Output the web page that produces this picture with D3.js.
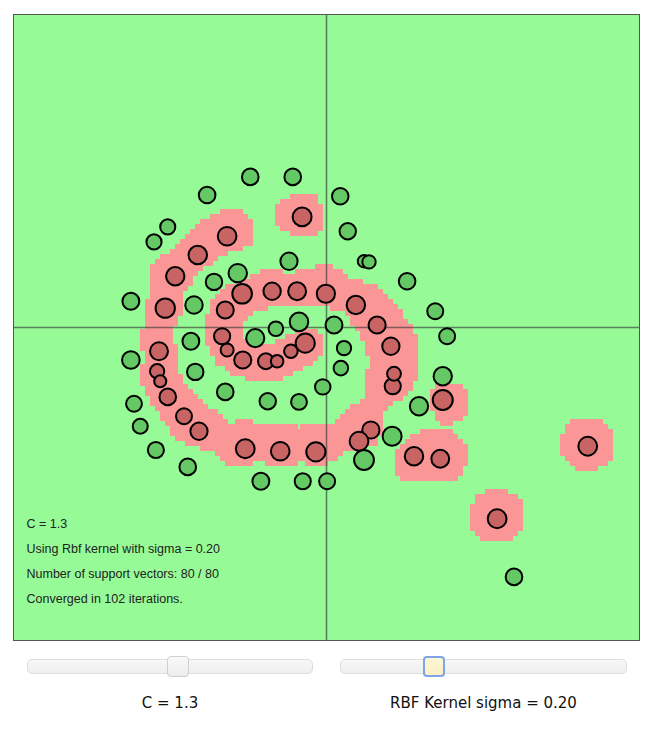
<!DOCTYPE html>
<html>
<head>
<meta charset="utf-8">
<script src="https://cdn.jsdelivr.net/npm/d3@7"></script>
<style>
  body { margin: 0; background: #fff; }
  #wrap { position: relative; width: 645px; height: 731px; font-family: "DejaVu Sans", Verdana, sans-serif; }
  #plot { position: absolute; left: 13px; top: 14px; }
  .track { position: absolute; top: 659px; height: 15px; box-sizing: border-box;
    border: 1px solid #dedede; border-radius: 5px; background: linear-gradient(#f7f7f7, #efefef); }
  .handle { position: absolute; top: 656px; width: 22px; height: 21px; box-sizing: border-box;
    border: 1px solid #cfcfcf; border-radius: 4px; background: linear-gradient(#f9f9f9, #ececec); }
  .handle.focus { border: 2px solid #7ea6e6; background: linear-gradient(#fdf7d8, #fbefc4); }
  .lbl { position: absolute; top: 694px; font-size: 15px; text-align: center; color: #111; }
</style>
</head>
<body>
<div id="wrap"></div>
<script>
// training points in data units (canvas center is 0,0; y grows downward)
const greenX = [-1.22, -0.54, -1.91, 0.22, -2.54, -2.76, 0.34, -0.60, 0.60, 0.68,
  -1.42, -1.80, 1.29, -3.13, -2.12, 1.74, -0.44, -0.81, 0.12, -1.14,
  -2.17, 1.93, 0.28, -3.13, 0.23, -2.10, 1.86, -0.06, -1.62, -0.94,
  -0.44, -3.08, 1.48, -2.98, 1.05, -2.73, 0.60, -2.22, -1.05, -0.38,
  0.01, 3.00]
const greenY = [-2.41, -2.41, -2.12, -2.10, -1.61, -1.37, -1.54, -1.06, -1.06, -1.05,
  -0.87, -0.73, -0.74, -0.42, -0.36, -0.26, -0.09, 0.02, -0.04, 0.17,
  0.22, 0.14, 0.33, 0.52, 0.65, 0.71, 0.78, 0.95, 1.03, 1.18,
  1.19, 1.22, 1.26, 1.58, 1.74, 1.96, 2.12, 2.23, 2.46, 2.46,
  2.46, 3.99]
const redX = [-0.39, -1.59, -2.06, -2.42, -1.35, -0.87, -0.47, -0.01, 0.47, -2.58,
  -1.62, 0.81, -1.67, -0.34, -0.57, 1.03, -1.59, -2.68, -1.34, -0.97,
  -0.79, -2.71, 1.06, -2.66, 1.08, -2.54, 1.86, -2.28, 0.71, -2.04,
  0.52, -1.30, -0.74, -0.17, 1.40, 1.82, 4.18, 2.73]
const redY = [-1.77, -1.46, -1.16, -0.82, -0.54, -0.58, -0.58, -0.54, -0.36, -0.31,
  -0.28, -0.04, 0.14, 0.25, 0.38, 0.30, 0.36, 0.38, 0.52, 0.54,
  0.54, 0.70, 0.94, 0.86, 0.74, 1.11, 1.16, 1.42, 1.64, 1.66,
  1.82, 1.94, 1.98, 1.99, 2.06, 2.10, 1.90, 3.06]

// slider positions (log10 of the parameter) and the reported iteration count
const sliderC = 0.1
const sliderSigma = -0.7
const sliderDomain = [-2, 2]
const convergedIters = 102

const svmC = Math.pow(10, sliderC)
const rbfSigma = Math.pow(10, sliderSigma)

const data = []
const labels = []
greenX.forEach((x, i) => { data.push([x, greenY[i]]); labels.push(1) })
redX.forEach((x, i) => { data.push([x, redY[i]]); labels.push(-1) })
const N = data.length

function rbf (a, b) {
  const dx = a[0] - b[0]
  const dy = a[1] - b[1]
  return Math.exp(-(dx * dx + dy * dy) / (2 * rbfSigma * rbfSigma))
}

// small seeded generator so the SMO pass order is repeatable
function mulberry32 (s) {
  return function () {
    s |= 0; s = s + 0x6D2B79F5 | 0
    let t = Math.imul(s ^ s >>> 15, 1 | s)
    t = t + Math.imul(t ^ t >>> 7, 61 | t) ^ t
    return ((t ^ t >>> 14) >>> 0) / 4294967296
  }
}

// simplified SMO, same steps as svmjs
function trainSvm () {
  const K = data.map(a => data.map(b => rbf(a, b)))
  const alpha = new Array(N).fill(0)
  let b = 0
  const rand = mulberry32(7)
  const tol = 1e-4
  const marginIdx = i => {
    let f = b
    for (let k = 0; k < N; k++) f += alpha[k] * labels[k] * K[i][k]
    return f
  }
  let iter = 0
  let passes = 0
  while (passes < 10 && iter < 10000) {
    let changed = 0
    for (let i = 0; i < N; i++) {
      const Ei = marginIdx(i) - labels[i]
      if ((labels[i] * Ei < -tol && alpha[i] < svmC) || (labels[i] * Ei > tol && alpha[i] > 0)) {
        let j = i
        while (j === i) j = Math.floor(rand() * N)
        const Ej = marginIdx(j) - labels[j]
        const ai = alpha[i]
        const aj = alpha[j]
        let L = 0
        let H = svmC
        if (labels[i] === labels[j]) {
          L = Math.max(0, ai + aj - svmC)
          H = Math.min(svmC, ai + aj)
        } else {
          L = Math.max(0, aj - ai)
          H = Math.min(svmC, svmC + aj - ai)
        }
        if (Math.abs(L - H) < 1e-4) continue
        const eta = 2 * K[i][j] - K[i][i] - K[j][j]
        if (eta >= 0) continue
        let newaj = aj - labels[j] * (Ei - Ej) / eta
        newaj = Math.max(L, Math.min(H, newaj))
        if (Math.abs(aj - newaj) < 1e-4) continue
        alpha[j] = newaj
        const newai = ai + labels[i] * labels[j] * (aj - newaj)
        alpha[i] = newai
        const b1 = b - Ei - labels[i] * (newai - ai) * K[i][i] - labels[j] * (newaj - aj) * K[i][j]
        const b2 = b - Ej - labels[i] * (newai - ai) * K[i][j] - labels[j] * (newaj - aj) * K[j][j]
        b = 0.5 * (b1 + b2)
        if (newai > 0 && newai < svmC) b = b1
        if (newaj > 0 && newaj < svmC) b = b2
        changed++
      }
    }
    iter++
    passes = changed === 0 ? passes + 1 : 0
  }
  return { alpha, b, iter }
}

const model = trainSvm()
function margin (p) {
  let f = model.b
  for (let k = 0; k < N; k++) f += model.alpha[k] * labels[k] * rbf(p, data[k])
  return f
}

const size = 625
const wrap = d3.select('#wrap')
const svg = wrap.append('svg')
  .attr('id', 'plot')
  .attr('width', size + 2)
  .attr('height', size + 2)

svg.append('rect')
  .attr('x', 0.5).attr('y', 0.5)
  .attr('width', size + 1).attr('height', size + 1)
  .attr('fill', 'rgb(150,250,150)')
  .attr('stroke', '#555')

const g = svg.append('g').attr('transform', 'translate(1,1)')
const sx = d3.scaleLinear().domain([-5, 5]).range([0, size])
const sy = d3.scaleLinear().domain([-5, 5]).range([0, size])

// decision grid, red where the margin is not positive; runs merged per row
const step = 0.08
const grid = d3.range(0, 126).map(i => -5 + i * step)
const runs = []
grid.forEach(gy => {
  let start = null
  grid.forEach((gx, i) => {
    const red = margin([gx, gy]) <= 0
    if (red && start === null) start = gx
    if ((!red || i === grid.length - 1) && start !== null) {
      runs.push({ x0: start, x1: red ? gx : gx - step, y: gy })
      start = null
    }
  })
})

g.append('g')
  .attr('shape-rendering', 'crispEdges')
  .selectAll('rect')
  .data(runs)
  .join('rect')
  .attr('x', d => sx(d.x0 - 0.06))
  .attr('y', d => sy(d.y - 0.1))
  .attr('width', d => sx(d.x1 + 0.06) - sx(d.x0 - 0.06))
  .attr('height', sy(0.12) - sy(0))
  .attr('fill', 'rgb(250,150,150)')

// axes through the origin
g.append('line')
  .attr('x1', 0).attr('x2', size)
  .attr('y1', sy(0)).attr('y2', sy(0))
  .attr('stroke', 'rgb(50,50,50)').attr('stroke-opacity', 0.6).attr('stroke-width', 1.6)
g.append('line')
  .attr('x1', sx(0)).attr('x2', sx(0))
  .attr('y1', 0).attr('y2', size)
  .attr('stroke', 'rgb(50,50,50)').attr('stroke-opacity', 0.6).attr('stroke-width', 1.6)

// points, larger for bigger multipliers
const rScale = d3.scaleLinear().domain([3, 8]).range([4.5, 10])
g.append('g')
  .selectAll('circle')
  .data(data)
  .join('circle')
  .attr('cx', d => sx(d[0]))
  .attr('cy', d => sy(d[1]))
  .attr('r', (d, i) => rScale(3 + model.alpha[i] * 5 / svmC))
  .attr('fill', (d, i) => labels[i] === 1 ? 'rgb(100,200,100)' : 'rgb(200,100,100)')
  .attr('stroke', '#000')
  .attr('stroke-width', (d, i) => model.alpha[i] > 1e-2 ? 2 : 1)

const numSupp = model.alpha.filter(a => a > 1e-5).length
const lines = [
  'C = ' + svmC.toPrecision(2),
  'Using Rbf kernel with sigma = ' + rbfSigma.toPrecision(2),
  'Number of support vectors: ' + numSupp + ' / ' + N,
  'Converged in ' + convergedIters + ' iterations.'
]
g.append('g')
  .selectAll('text')
  .data(lines)
  .join('text')
  .attr('x', 12.5)
  .attr('y', (d, i) => 512.5 + i * 25)
  .attr('font-family', '"Liberation Sans", Arial, sans-serif')
  .attr('font-size', 12.5)
  .attr('fill', '#222')
  .text(d => d)

// the two sliders under the canvas
const sliders = [
  { left: 27, width: 286, value: sliderC, text: 'C = ' + svmC.toPrecision(2), focus: false },
  { left: 340, width: 287, value: sliderSigma, text: 'RBF Kernel sigma = ' + rbfSigma.toPrecision(2), focus: true }
]
sliders.forEach(s => {
  const pos = d3.scaleLinear().domain(sliderDomain).range([s.left, s.left + s.width])
  wrap.append('div').attr('class', 'track')
    .style('left', s.left + 'px').style('width', s.width + 'px')
  wrap.append('div').attr('class', s.focus ? 'handle focus' : 'handle')
    .style('left', (pos(s.value) - 10) + 'px')
  wrap.append('div').attr('class', 'lbl')
    .style('left', s.left + 'px').style('width', s.width + 'px')
    .text(s.text)
})
</script>
</body>
</html>
